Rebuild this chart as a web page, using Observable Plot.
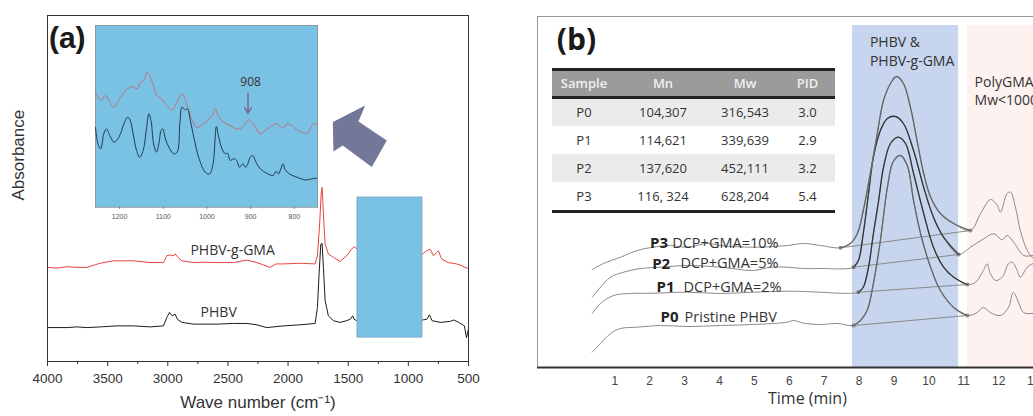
<!DOCTYPE html>
<html><head><meta charset="utf-8">
<script src="https://cdn.jsdelivr.net/npm/d3@7"></script>
<script src="https://cdn.jsdelivr.net/npm/@observablehq/plot@0.6"></script>
<style>
html,body{margin:0;padding:0;background:#fff;}
body{width:1033px;height:416px;overflow:hidden;position:relative;}
.panel{position:absolute;}
.panel svg{max-width:none;overflow:visible;}
#tb{font-family:"Open Sans",sans-serif;font-size:13px;color:#333;}
#tb .hd{display:flex;height:25px;background:#9b9b9b;border-top:3px solid #222;border-bottom:3px solid #222;color:#f0f0f0;font-weight:600;align-items:center;}
#tb .rw{display:flex;height:27.8px;align-items:center;}
#tb .rw.alt{background:#ebebeb;}
#tb .rw.last{border-bottom:3px solid #222;}
#tb .c{text-align:center;}
</style></head><body>
<div id="pa" class="panel" style="left:0;top:0;width:520px;height:416px"></div>
<div id="pi" class="panel" style="left:94px;top:24px;width:226px;height:200px"></div>
<div id="pb" class="panel" style="left:520px;top:0;width:600px;height:416px"></div>
<div id="tb" class="panel" style="left:552px;top:67.5px;width:283px"></div>
<script>
// ---------- Panel (a): FTIR spectra [wavenumber, absorbance (a.u.)] ----------
const phbvGmaSpectrum = [[4000,0.272],[3920,0.270],[3839,0.274],[3760,0.272],[3673,0.272],[3600,0.280],[3562,0.284],[3451,0.291],[3380,0.291],[3285,0.291],[3200,0.288],[3147,0.286],[3036,0.286],[3008,0.306],[2980,0.308],[2955,0.305],[2939,0.311],[2920,0.303],[2883,0.291],[2787,0.286],[2700,0.287],[2593,0.286],[2454,0.286],[2343,0.293],[2260,0.286],[2149,0.272],[2100,0.282],[2038,0.282],[1900,0.284],[1775,0.282],[1756,0.306],[1739,0.388],[1725,0.484],[1717,0.503],[1706,0.426],[1692,0.339],[1665,0.311],[1623,0.301],[1568,0.289],[1512,0.306],[1471,0.325],[1448,0.332],[1429,0.325],[1300,0.300],[1000,0.300],[883,0.311],[847,0.320],[820,0.325],[792,0.306],[764,0.315],[750,0.320],[723,0.296],[667,0.286],[598,0.282],[556,0.277],[529,0.272],[500,0.269]];
const phbvSpectrum = [[4000,0.098],[3839,0.098],[3756,0.100],[3673,0.098],[3562,0.100],[3423,0.103],[3285,0.103],[3147,0.100],[3036,0.103],[3008,0.127],[2986,0.142],[2963,0.132],[2939,0.137],[2920,0.122],[2883,0.113],[2787,0.108],[2593,0.108],[2454,0.110],[2343,0.110],[2260,0.106],[2177,0.098],[2038,0.103],[1900,0.106],[1775,0.110],[1756,0.156],[1742,0.253],[1728,0.339],[1717,0.341],[1706,0.272],[1692,0.176],[1665,0.132],[1623,0.118],[1568,0.113],[1512,0.118],[1484,0.122],[1462,0.132],[1451,0.122],[1429,0.118],[1200,0.120],[883,0.120],[847,0.122],[825,0.135],[803,0.118],[734,0.113],[651,0.116],[623,0.120],[581,0.113],[534,0.103],[517,0.069],[500,0.094]];
const majorTicksA = [4000,3500,3000,2500,2000,1500,1000,500];
const minorTicksA = [3750,3250,2750,2250,1750,1250,750];
const zoomRegion = [{x1:1423, x2:883, y1:0.069, y2:0.474}];
const zoomArrow = [[1628,0.692],[1359,0.740],[1415,0.694],[1179,0.639],[1304,0.562],[1545,0.624],[1623,0.607],[1628,0.692]];
const spectrumLabels = [{wn:2461, a:0.321, text:"PHBV-g-GMA"},{wn:2577, a:0.142, text:"PHBV"}];

// inset (1255-747 cm-1)
const insetGma = [[1255,0.633],[1243,0.587],[1232,0.615],[1224,0.587],[1213,0.550],[1198,0.606],[1182,0.651],[1171,0.664],[1160,0.651],[1152,0.688],[1145,0.697],[1137,0.743],[1133,0.734],[1125,0.688],[1114,0.615],[1103,0.596],[1095,0.569],[1080,0.536],[1067,0.587],[1057,0.624],[1049,0.587],[1038,0.505],[1023,0.440],[1004,0.468],[988,0.505],[981,0.541],[973,0.495],[962,0.468],[947,0.450],[931,0.431],[920,0.437],[912,0.459],[905,0.481],[897,0.468],[889,0.440],[878,0.404],[867,0.422],[851,0.450],[840,0.459],[832,0.444],[825,0.435],[817,0.459],[806,0.450],[791,0.422],[771,0.407],[764,0.431],[756,0.459],[749,0.459]];
const insetPhbv = [[1255,0.440],[1249.5,0.349],[1243,0.321],[1236,0.404],[1230,0.431],[1222,0.394],[1213,0.358],[1201.5,0.385],[1190,0.459],[1182,0.495],[1176,0.481],[1169,0.404],[1161,0.312],[1154,0.275],[1146,0.312],[1138,0.440],[1133,0.514],[1128,0.477],[1122,0.349],[1115.5,0.303],[1110,0.349],[1105,0.422],[1101,0.431],[1095,0.376],[1087,0.330],[1076,0.294],[1068,0.303],[1062,0.459],[1057,0.550],[1049,0.536],[1044,0.541],[1038,0.477],[1030,0.385],[1019,0.275],[1004,0.193],[994,0.183],[986,0.239],[981.5,0.367],[978.5,0.444],[973,0.385],[965.5,0.321],[958,0.294],[952.7,0.297],[946.6,0.257],[940.5,0.266],[933,0.261],[925.4,0.220],[917.8,0.239],[911.7,0.220],[907,0.235],[901,0.275],[894.7,0.284],[889.5,0.257],[878,0.211],[863,0.187],[849,0.174],[841.6,0.198],[836,0.183],[831,0.211],[826,0.239],[821,0.206],[811,0.183],[794,0.165],[775,0.150],[760,0.156],[749,0.160]];
const insetTicks = [1200,1100,1000,900,800];
const peak908 = [{wn:906, from:0.626, to:0.516, labelWn:900, labelA:0.688, text:"908"}];

// ---------- Panel (b): GPC traces [time (min), signal (a.u.)] ----------
const P0trace = [[0.352,15.3],[0.590,24],[0.877,34],[1.163,39],[1.642,40.3],[2.309,42],[3.074,41],[4.03,42],[4.97,43],[5.94,45.3],[6.12,47],[6.41,44.3],[6.89,43],[7.37,44],[7.84,42],[8.04,47],[8.23,57],[8.41,84],[8.61,127],[8.81,180],[8.98,206],[9.18,212],[9.38,202],[9.56,167],[9.76,134],[10.05,100],[10.33,77],[10.71,60],[11.10,52],[11.38,55],[11.56,60],[11.76,55],[12.05,52],[12.28,60],[12.42,75],[12.57,65],[12.71,55],[13.0,54],[13.34,54]];
const P1trace = [[0.352,54],[0.590,64],[0.963,72],[1.450,74],[2.109,74.3],[3.074,75.3],[4.03,74],[4.97,75.3],[5.94,76.3],[6.89,75.3],[7.47,74.3],[7.98,75.3],[8.12,80.3],[8.27,100.3],[8.41,134],[8.56,167],[8.70,200.3],[8.90,224],[9.12,230.3],[9.33,224],[9.56,194],[9.85,154],[10.13,120.3],[10.42,100.3],[10.71,90.3],[11.10,83],[11.34,85.3],[11.56,97],[11.67,103.7],[11.76,94],[11.91,87],[12.10,90.3],[12.28,103.7],[12.39,105.3],[12.53,97],[12.62,90.3],[12.82,100.3],[13.0,104],[13.34,105]];
const P2trace = [[0.352,70.3],[0.590,80.3],[0.877,90.3],[1.249,95.3],[1.736,99],[2.309,100.3],[3.074,102],[4.03,100.3],[4.97,97],[5.46,100.3],[5.94,100.3],[6.41,99],[6.89,99],[7.84,100.3],[7.98,107],[8.12,134],[8.27,174],[8.41,210.3],[8.61,237],[8.81,249],[9.04,251],[9.27,244],[9.56,217],[9.85,180.3],[10.13,150.3],[10.42,130.3],[10.85,113],[11.19,120.3],[11.57,128.7],[11.86,133.7],[12.10,127.7],[12.24,132],[12.43,125.3],[12.72,112],[13.0,112],[13.34,112]];
const P3trace = [[0.352,98],[0.676,104],[1.163,110.3],[1.642,117],[2.109,120.3],[2.596,122],[3.074,120.3],[3.648,124],[4.03,122],[4.97,120.3],[5.94,122],[6.41,124],[6.89,122],[7.47,119.7],[7.75,124],[7.95,134],[8.12,157],[8.32,194],[8.52,234],[8.70,267],[8.90,284],[9.07,291],[9.27,284],[9.47,260.3],[9.66,227],[9.85,194],[10.05,170.3],[10.33,154],[10.71,144],[11.19,137],[11.48,154],[11.77,168],[11.96,162],[12.05,155.3],[12.24,174],[12.34,175.3],[12.48,160.3],[12.62,137],[12.82,117],[13.0,109],[13.34,105]];
const samples = ["P0","P1","P2","P3"];
const sampleNotes = ["Pristine PHBV","DCP+GMA=2%","DCP+GMA=5%","DCP+GMA=10%"];
const integrationWindows = [[7.84,11.10],[7.98,11.10],[7.84,10.85],[7.47,11.19]];
const peakColors = ["#666","#333","#333","#666"];
const timeTicks = [1,2,3,4,5,6,7,8,9,10,11,12,13];
const regionPHBV = {t1:7.81, t2:10.85, top:342};
const regionPolyGMA = {t1:11.10, t2:15.5, top:342};
const labelPos = [{t:2.31, td:3.0, s:50.3},{t:2.195, td:2.97, s:80.3},{t:2.07, td:2.88, s:103.7},{t:2.01, td:2.645, s:124.5}];
const regionLabels = [{t:8.31, s:325, text:"PHBV &"},{t:8.31, s:306, text:"PHBV-g-GMA"},{t:11.31, s:285, text:"PolyGMA"},{t:11.31, s:267, text:"Mw<1000"}];

// table
const tableHeader = ["Sample","Mn","Mw","PID"];
const tableMn = ["104,307","114,621","137,620","116, 324"];
const tableMw = ["316,543","339,639","452,111","628,204"];
const tablePID = ["3.0","2.9","3.2","5.4"];

// ---------- build panel (a) ----------
const toA = arr => arr.map(([wn,a]) => ({wn,a}));
const pa = Plot.plot({
  width:520, height:416, marginLeft:47, marginRight:52, marginTop:15, marginBottom:55,
  x:{domain:[4000,500], label:null}, y:{domain:[0,1], axis:null},
  style:{fontFamily:"'Liberation Sans', Arial, sans-serif", fontSize:"13.5px", color:"#333", background:"transparent"},
  marks:[
    Plot.line(toA(phbvGmaSpectrum), {x:"wn", y:"a", stroke:"#e8423f", strokeWidth:1}),
    Plot.line(toA(phbvSpectrum), {x:"wn", y:"a", stroke:"#1b1b1b", strokeWidth:1}),
    Plot.rect(zoomRegion, {x1:"x1", x2:"x2", y1:"y1", y2:"y2", fill:"#79c2e3", stroke:"#6fa6c0", strokeWidth:0.8}),
    Plot.line(toA(zoomArrow), {x:"wn", y:"a", fill:"#737899", stroke:"none"}),
    Plot.frame({stroke:"#333"}),
    Plot.axisX({ticks:majorTicksA, tickSize:5, tickPadding:7, tickFormat:d3.format("d"), fontSize:13.5, fill:"#333", stroke:"#333"}),
    Plot.axisX({ticks:minorTicksA, tickSize:3, text:null, stroke:"#333"}),
    Plot.text(["Wave number (cm\u207B\u00B9)"], {frameAnchor:"bottom", dy:46, fontSize:17, fill:"#333"}),
    Plot.text(["Absorbance"], {frameAnchor:"left", rotate:-90, dx:-29, dy:12, fontSize:17, fill:"#333"}),
    Plot.text(spectrumLabels, {x:"wn", y:"a", text:"text", fontFamily:"'Open Sans', sans-serif", fontSize:14, fill:"#333"}),
    Plot.text(["(a)"], {x:3836, y:0.934, fontWeight:"bold", fontSize:30, fill:"#1a1a1a"})
  ]
});
document.getElementById("pa").append(pa);

// inset
const pi = Plot.plot({
  width:226, height:200, marginLeft:1, marginRight:3, marginTop:1, marginBottom:17.3,
  x:{domain:[1255,747], label:null}, y:{domain:[0,1], axis:null},
  style:{fontFamily:"'Liberation Sans', Arial, sans-serif", background:"transparent"},
  marks:[
    Plot.frame({fill:"#79c2e3", stroke:"#8b99a3"}),
    Plot.line(toA(insetGma), {x:"wn", y:"a", stroke:"#c2707d", strokeWidth:1, curve:"catmull-rom"}),
    Plot.line(toA(insetPhbv), {x:"wn", y:"a", stroke:"#1f3b4c", strokeWidth:1, curve:"catmull-rom"}),
    Plot.arrow(peak908, {x1:"wn", x2:"wn", y1:"from", y2:"to", stroke:"#7a6e9c", strokeWidth:1.6, headLength:7}),
    Plot.text(peak908, {x:"labelWn", y:"labelA", text:"text", fontFamily:"'Open Sans', sans-serif", fontSize:12, fill:"#333"}),
    Plot.axisX({ticks:insetTicks, tickSize:2, tickPadding:5, tickFormat:d3.format("d"), fontSize:7, fill:"#555", stroke:"#777"})
  ]
});
document.getElementById("pi").append(pi);

// ---------- build panel (b) ----------
const traces = [P0trace,P1trace,P2trace,P3trace].map(tr => tr.map(([t,s]) => ({t,s})));
const baselines = integrationWindows.map(([a,b],i) => {
  const p = traces[i].find(d => d.t === a), q = traces[i].find(d => d.t === b);
  return {x1:p.t, y1:p.s, x2:q.t, y2:q.s};
});
const markers = baselines.flatMap(d => [{t:d.x1, s:d.y1},{t:d.x2, s:d.y2}]);
const curveMarks = traces.flatMap((tr,i) => [
  Plot.line(tr, {x:"t", y:"s", stroke:"#8a8a8a", strokeWidth:1, curve:"catmull-rom"}),
  Plot.line(tr, {filter: d => d.t >= integrationWindows[i][0] && d.t <= integrationWindows[i][1], x:"t", y:"s", stroke:peakColors[i], strokeWidth:1.3, curve:"catmull-rom"})
]);
const labelData = samples.map((id,i) => ({id, note:sampleNotes[i], ...labelPos[i]}));
const pb = Plot.plot({
  width:600, height:416, marginLeft:17, marginRight:0, marginTop:16, marginBottom:49,
  x:{domain:[-1.215,15.49], label:null}, y:{domain:[0,351], axis:null},
  style:{fontFamily:"'Liberation Sans', Arial, sans-serif", background:"transparent", color:"#444"},
  marks:[
    Plot.rect([regionPHBV], {x1:"t1", x2:"t2", y1:0, y2:"top", fill:"#c7d5ee"}),
    Plot.rect([regionPolyGMA], {x1:"t1", x2:"t2", y1:0, y2:"top", fill:"#fdf2ef"}),
    Plot.frame({stroke:"#999"}),
    Plot.ruleY([0], {stroke:"#333", strokeWidth:2}),
    Plot.link(baselines, {x1:"x1", y1:"y1", x2:"x2", y2:"y2", stroke:"#8a8a8a", strokeWidth:1}),
    ...curveMarks,
    Plot.dot(markers, {x:"t", y:"s", symbol:"square", r:1.5, stroke:"#666", strokeWidth:0.8}),
    Plot.axisX({ticks:timeTicks, tickSize:0, tickPadding:9, fontSize:12, fill:"#444"}),
    Plot.text(["Time (min)"], {x:6.52, frameAnchor:"bottom", dy:36, fontFamily:"'Open Sans', sans-serif", fontSize:16, fill:"#333"}),
    Plot.text(["(b)"], {x:-0.10, y:327, fontFamily:"'Open Sans', sans-serif", fontWeight:"bold", fontSize:30, fill:"#1a1a1a"}),
    Plot.text(regionLabels, {x:"t", y:"s", text:"text", textAnchor:"start", fontFamily:"'Open Sans', sans-serif", fontSize:14, fill:"#333"}),
    Plot.text(labelData, {x:"t", y:"s", text:"id", textAnchor:"start", fontFamily:"'Open Sans', sans-serif", fontWeight:"bold", fontSize:15, fill:"#222"}),
    Plot.text(labelData, {x:"td", y:"s", text:"note", textAnchor:"start", fontFamily:"'Open Sans', sans-serif", fontSize:14.5, fill:"#333"})
  ]
});
document.getElementById("pb").append(pb);

// ---------- table ----------
const widths = [64,94,70,55];
const tb = document.getElementById("tb");
const mkRow = (cls, cells) => {
  const r = document.createElement("div"); r.className = cls;
  cells.forEach((c,i) => { const d = document.createElement("div"); d.className = "c"; d.style.width = widths[i]+"px"; d.textContent = c; r.append(d); });
  tb.append(r);
};
mkRow("hd", tableHeader);
samples.forEach((s,i) => mkRow("rw" + (i%2===0 ? " alt" : "") + (i===samples.length-1 ? " last" : ""), [s, tableMn[i], tableMw[i], tablePID[i]]));
</script>
</body></html>
